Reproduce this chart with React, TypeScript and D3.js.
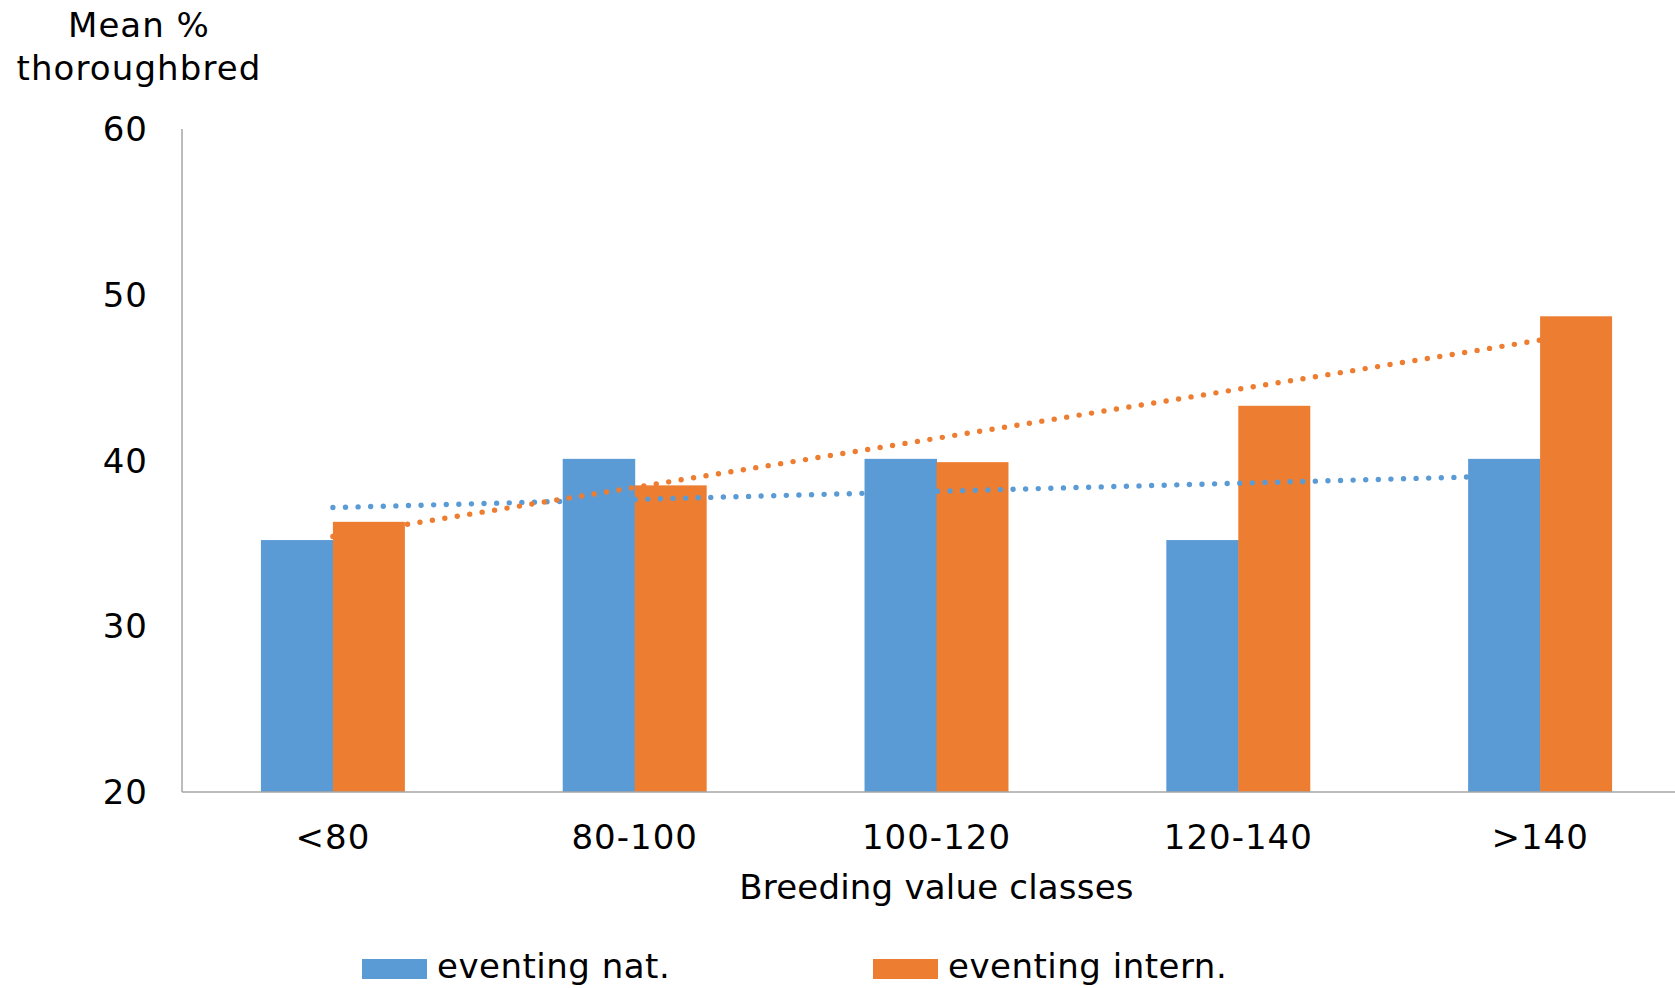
import React from "react";
import * as d3 from "d3";

const categories = ["<80", "80-100", "100-120", "120-140", ">140"];
const seriesNames = ["eventing nat.", "eventing intern."];
const nationalValues = [35.2, 40.1, 40.1, 35.2, 40.1];
const internationalValues = [36.3, 38.5, 39.9, 43.3, 48.7];
const seriesColors = ["#5B9BD5", "#ED7D31"];
const yTicks = [20, 30, 40, 50, 60];

const W = 1675;
const H = 988;
const FONT = "'DejaVu Sans', sans-serif";

// least-squares line over category index 1..n
function linearTrend(values: number[]) {
  const xs = values.map((_, i) => i + 1);
  const mx = d3.mean(xs) as number;
  const my = d3.mean(values) as number;
  const sxy = d3.sum(xs.map((x, i) => (x - mx) * (values[i] - my)));
  const sxx = d3.sum(xs.map((x) => (x - mx) * (x - mx)));
  const slope = sxy / sxx;
  return (x: number) => my + slope * (x - mx);
}

export default function App() {
  const left = 182;
  const band = 301.8;
  const x0 = d3
    .scaleBand<string>()
    .domain(categories)
    .range([left, left + band * categories.length])
    .paddingInner(0)
    .paddingOuter(0);
  const groupW = x0.bandwidth() * 0.477;
  const x1 = d3.scaleBand<string>().domain(seriesNames).range([0, groupW]);
  const y = d3.scaleLinear().domain([20, 60]).range([792, 129]);

  const allSeries = [nationalValues, internationalValues];
  const center = (c: string) => (x0(c) as number) + x0.bandwidth() / 2;

  const trendLines = allSeries.map((vals) => {
    const f = linearTrend(vals);
    const pts: [number, number][] = [
      [center(categories[0]), y(f(1))],
      [center(categories[categories.length - 1]), y(f(categories.length))],
    ];
    return d3.line()(pts) as string;
  });

  const axisColor = "#A6A6A6";

  return (
    <svg
      width={W}
      height={H}
      style={{ position: "absolute", left: 0, top: 0, background: "#fff" }}
      fontFamily={FONT}
    >
      {/* bars */}
      {allSeries.map((vals, si) =>
        vals.map((v, ci) => {
          const c = categories[ci];
          const bx =
            (x0(c) as number) +
            (x0.bandwidth() - groupW) / 2 +
            (x1(seriesNames[si]) as number);
          return (
            <rect
              key={`${si}-${ci}`}
              x={bx}
              y={y(v)}
              width={x1.bandwidth() + (si === 0 ? 0.5 : 0)}
              height={y(20) - y(v)}
              fill={seriesColors[si]}
            />
          );
        })
      )}

      {/* linear trend lines, round dots */}
      {trendLines.map((d, i) => (
        <path
          key={i}
          d={d}
          fill="none"
          stroke={seriesColors[i]}
          strokeWidth={5.4}
          strokeLinecap="round"
          strokeDasharray="0 12.6"
        />
      ))}

      {/* axes */}
      <line x1={left} x2={left} y1={y(60)} y2={y(20)} stroke={axisColor} strokeWidth={1.5} />
      <line x1={left} x2={W} y1={y(20)} y2={y(20)} stroke={axisColor} strokeWidth={1.5} />

      {/* y tick labels */}
      {yTicks.map((t) => (
        <text
          key={t}
          x={148}
          y={y(t)}
          dy="0.36em"
          textAnchor="end"
          fontSize={34}
          letterSpacing={1}
          fill="#000"
        >
          {t}
        </text>
      ))}

      {/* x tick labels */}
      {categories.map((c) => (
        <text
          key={c}
          x={center(c)}
          y={849}
          textAnchor="middle"
          fontSize={34}
          letterSpacing={1}
          fill="#000"
        >
          {c}
        </text>
      ))}

      {/* axis titles */}
      <text x={139} y={37} textAnchor="middle" fontSize={34} letterSpacing={1} fill="#000">
        Mean %
      </text>
      <text x={139} y={80} textAnchor="middle" fontSize={34} letterSpacing={1.1} fill="#000">
        thoroughbred
      </text>
      <text
        x={(left + left + band * categories.length) / 2}
        y={899}
        textAnchor="middle"
        fontSize={34}
        letterSpacing={0.2}
        fill="#000"
      >
        Breeding value classes
      </text>

      {/* legend */}
      {seriesNames.map((s, i) => {
        const lx = [362, 873][i];
        return (
          <g key={s}>
            <rect x={lx} y={959} width={65} height={20} fill={seriesColors[i]} />
            <text x={lx + 75} y={978} fontSize={34} letterSpacing={0.5} fill="#000">
              {s}
            </text>
          </g>
        );
      })}
    </svg>
  );
}
